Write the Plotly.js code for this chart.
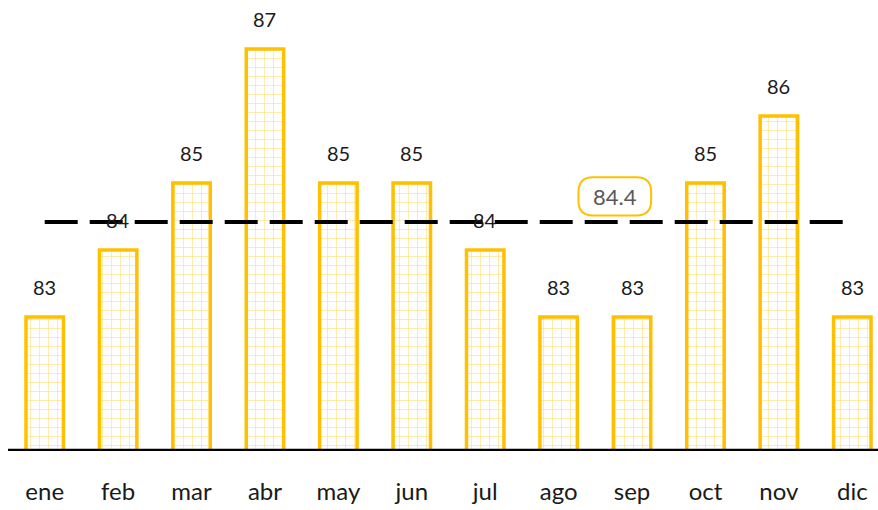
<!DOCTYPE html>
<html>
<head>
<meta charset="utf-8">
<script src="https://cdn.plot.ly/plotly-3.0.1.min.js"></script>
<style>html,body{margin:0;padding:0;background:#fff;}#chart{width:878px;height:510px;}</style>
</head>
<body>
<div id="chart"></div>
<script>
const months = ['ene','feb','mar','abr','may','jun','jul','ago','sep','oct','nov','dic'];
const values = [83,84,85,87,85,85,84,83,83,85,86,83];
const avg = values.reduce((a,b)=>a+b,0)/values.length;
const avgLabel = avg.toFixed(1);

const gold = '#FFC000';
const bars = {
  type:'bar', x: months, y: values,
  marker:{color:'#ffffff', line:{color:gold, width:3.5},
    pattern:{shape:'+', fgcolor:gold, bgcolor:'#ffffff', size:9, solidity:0.14, fgopacity:0.5}},
  hoverinfo:'skip'
};
const avgLine = {
  type:'scatter', mode:'lines', x: months, y: months.map(()=>avg),
  line:{color:'#000000', width:4, dash:'33px,12px'}, hoverinfo:'skip'
};

const valueAnns = months.map((m,i)=>({
  x:m, y:values[i], text:String(values[i]), showarrow:false,
  yanchor:'bottom', yshift:16, font:{family:'Lato, Carlito, sans-serif', size:20, color:'#1a1a1a'}
}));

// label box for the average, positioned relative to avg
const bx0 = 7.27, bx1 = 8.26, by0 = avg + 0.1, by1 = avg + 0.67;
const rx = 0.2, ry = 0.22;
const path = `M ${bx0+rx},${by1} L ${bx1-rx},${by1} Q ${bx1},${by1} ${bx1},${by1-ry} L ${bx1},${by0+ry} Q ${bx1},${by0} ${bx1-rx},${by0} L ${bx0+rx},${by0} Q ${bx0},${by0} ${bx0},${by0+ry} L ${bx0},${by1-ry} Q ${bx0},${by1} ${bx0+rx},${by1} Z`;

const layout = {
  width:878, height:510,
  margin:{l:8, r:0, t:0, b:59},
  paper_bgcolor:'#fff', plot_bgcolor:'#fff',
  showlegend:false, bargap:0.49,
  xaxis:{type:'category', range:[-0.5, 11.35], showgrid:false, zeroline:false,
    showline:false, ticks:'', tickfont:{family:'Lato, Carlito, sans-serif', size:24, color:'#1a1a1a'},
    ticklabelstandoff:24},
  yaxis:{range:[81, 81+451/67], visible:false, showgrid:false, zeroline:false},
  shapes:[
    {type:'line', xref:'paper', x0:0, x1:1, yref:'y', y0:81, y1:81, line:{color:'#000', width:4.5}, layer:'above'},
    {type:'path', path:path, xref:'x', yref:'y', fillcolor:'#ffffff', line:{color:gold, width:2}, layer:'above'}
  ],
  annotations: valueAnns.concat([{
    x:(bx0+bx1)/2, y:(by0+by1)/2, xref:'x', yref:'y', text:avgLabel, showarrow:false,
    font:{family:'Lato, Carlito, sans-serif', size:22, color:'#595959'}
  }])
};
Plotly.newPlot('chart',[bars, avgLine], layout, {displayModeBar:false, staticPlot:true});
</script>
</body>
</html>
